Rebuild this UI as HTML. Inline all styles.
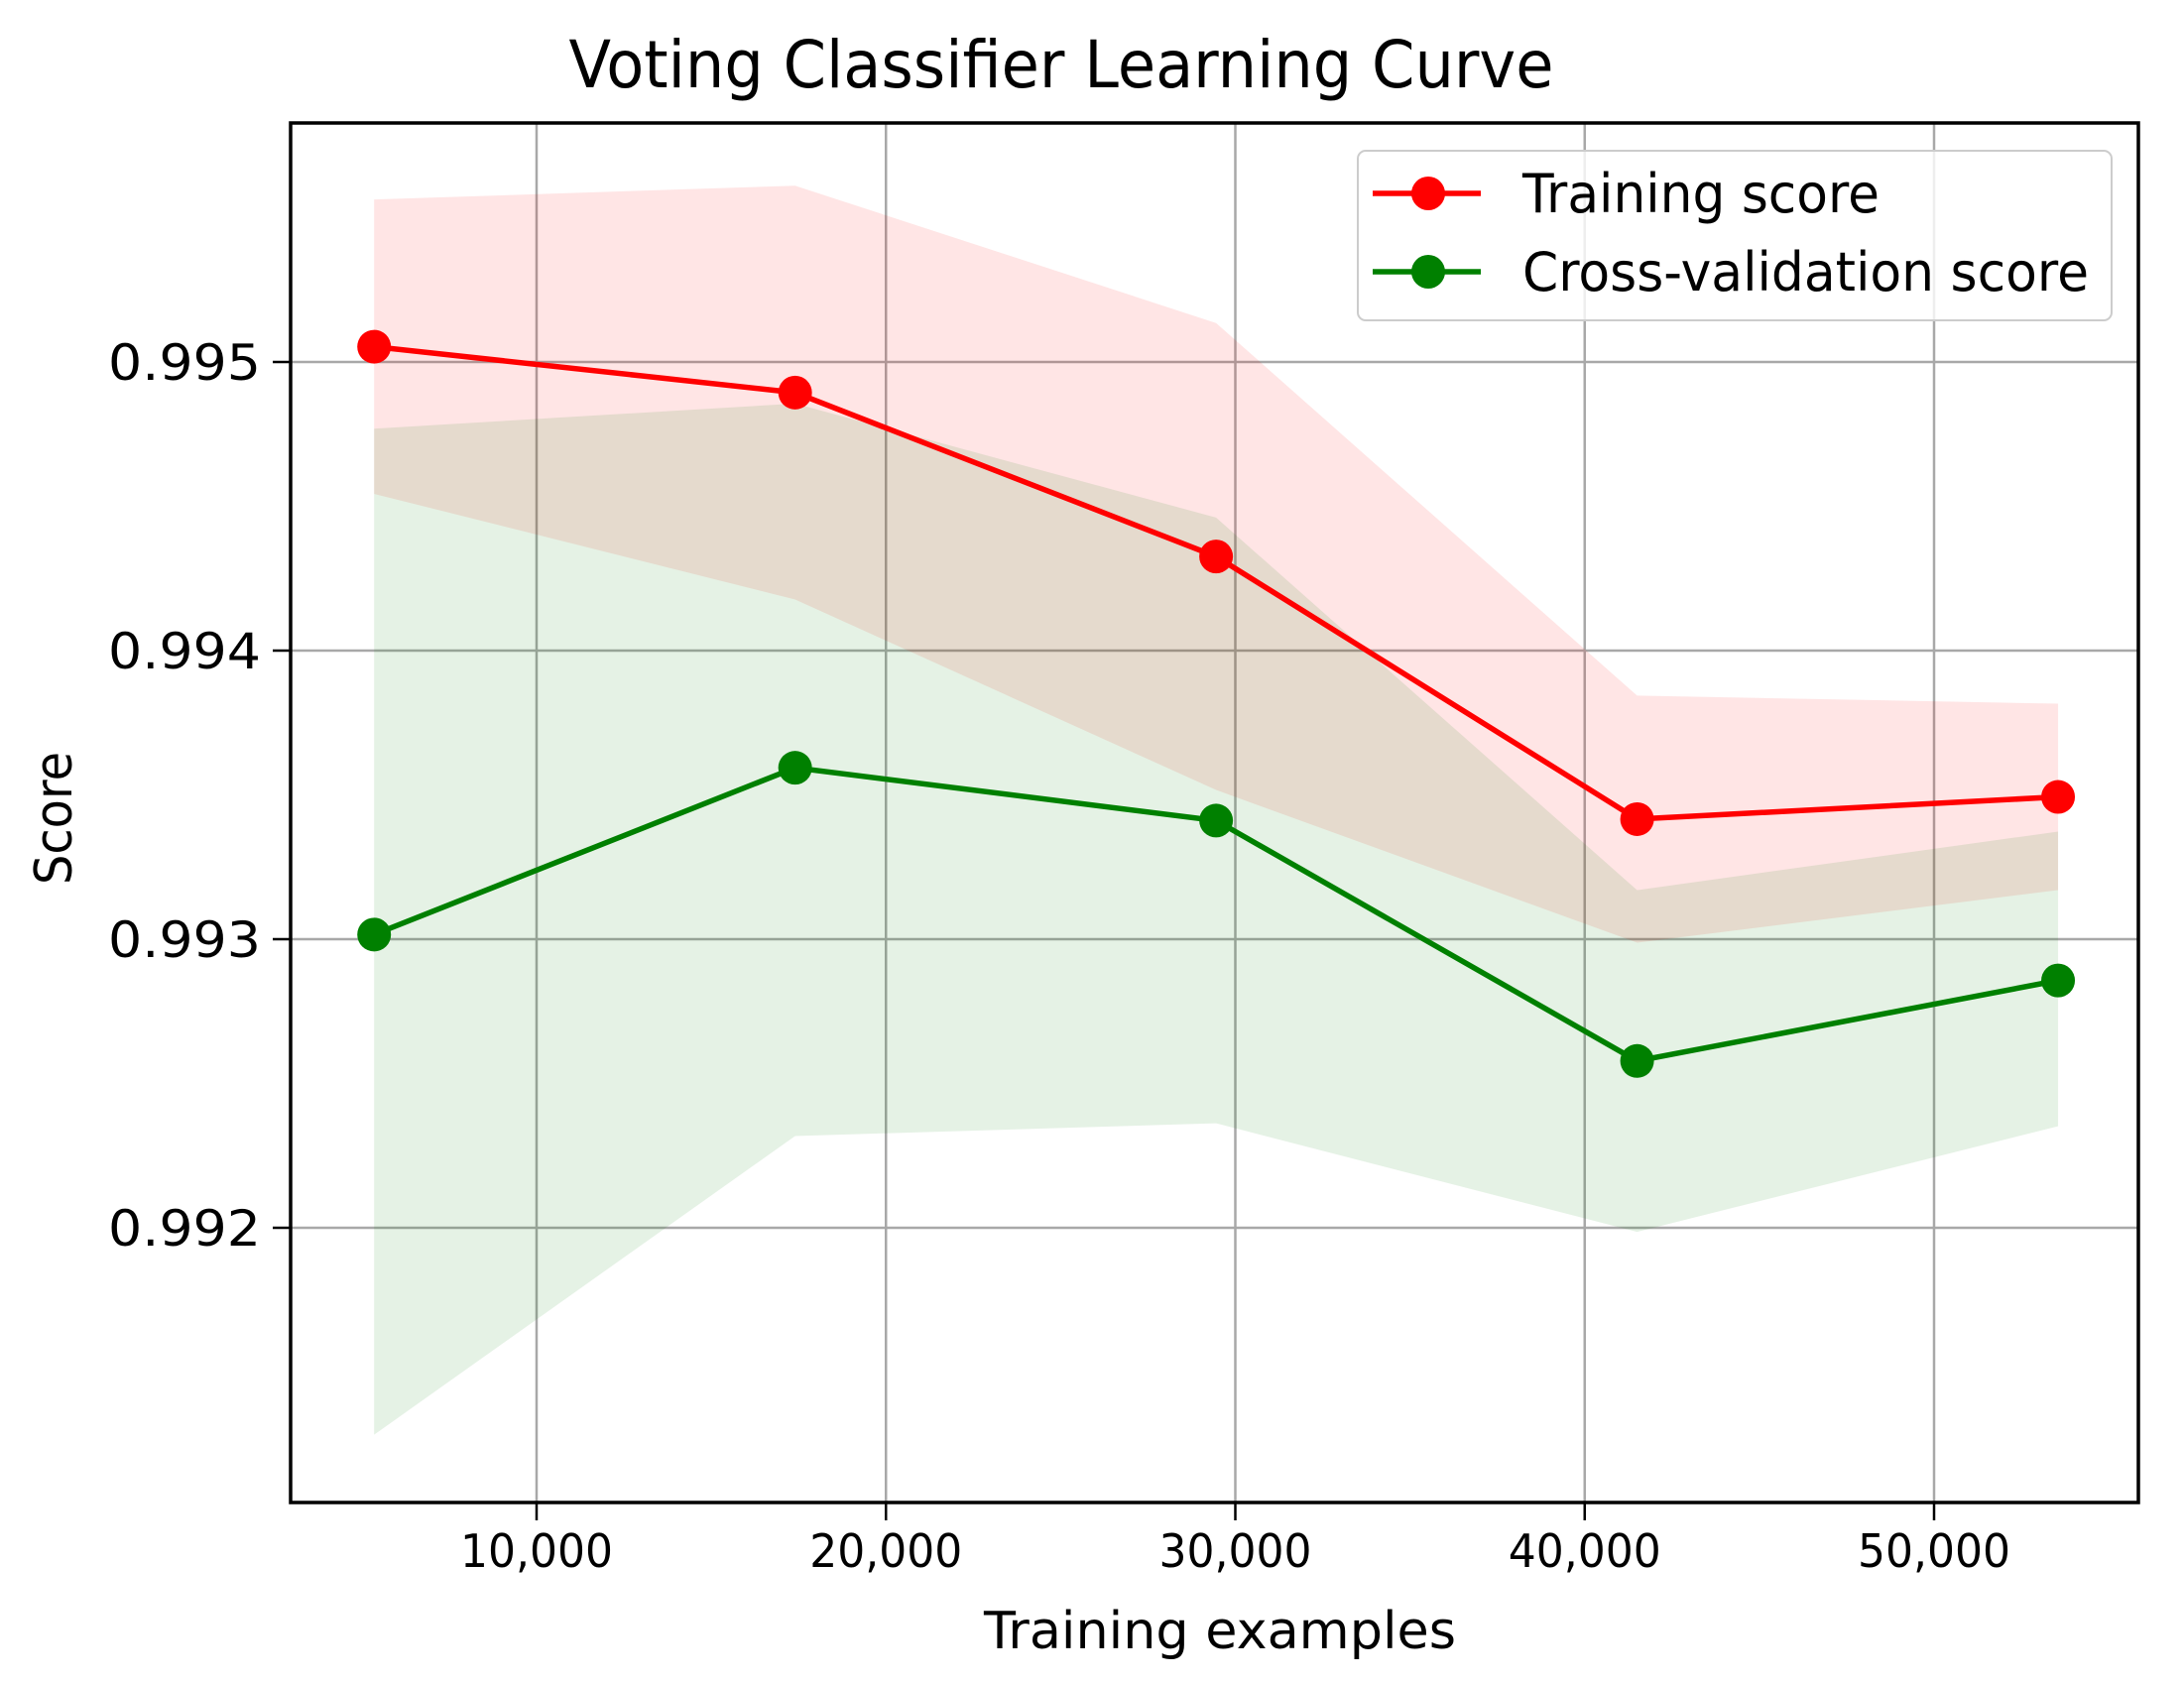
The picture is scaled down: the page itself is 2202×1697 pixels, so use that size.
<!DOCTYPE html>
<html><head><meta charset="utf-8"><style>
html,body{margin:0;padding:0;background:#fff;}
svg{display:block;font-family:"DejaVu Sans","Liberation Sans",sans-serif;}
</style></head><body>
<svg id="chart" width="2202" height="1697" viewBox="0 0 2202 1697" xmlns="http://www.w3.org/2000/svg">
<rect width="2202" height="1697" fill="#fff"/>
<text x="1070" y="88" font-size="66" text-anchor="middle" textLength="993" lengthAdjust="spacingAndGlyphs" fill="#000">Voting Classifier Learning Curve</text>
<g id="grid"></g>
<g id="bands"></g>
<g id="lines"></g>
<rect x="293" y="124" width="1863" height="1391" fill="none" stroke="#000" stroke-width="3.5"/>
<g id="ticks"></g>
<text x="1230" y="1662" font-size="52" text-anchor="middle" textLength="476" lengthAdjust="spacingAndGlyphs" fill="#000">Training examples</text>
<text transform="translate(72,825) rotate(-90)" font-size="52" text-anchor="middle" textLength="134" lengthAdjust="spacingAndGlyphs" fill="#000">Score</text>
<g>
<rect x="1369" y="152" width="760" height="171" rx="8" fill="#fff" fill-opacity="0.8" stroke="#ccc" stroke-width="2"/>
<line x1="1384" y1="195" x2="1493" y2="195" stroke="#ff0000" stroke-width="5.5"/>
<circle cx="1440" cy="195" r="17" fill="#ff0000"/>
<text x="1535" y="214" font-size="54" textLength="360" lengthAdjust="spacingAndGlyphs" fill="#000">Training score</text>
<line x1="1384" y1="274" x2="1493" y2="274" stroke="#008000" stroke-width="5.5"/>
<circle cx="1440" cy="274" r="17" fill="#008000"/>
<text x="1535" y="293" font-size="54" textLength="571" lengthAdjust="spacingAndGlyphs" fill="#000">Cross-validation score</text>
</g>
</svg>
<script>
const sizes = [5350, 17400, 29450, 41500, 53550];
const trainMean = [0.995053, 0.994894, 0.994326, 0.993416, 0.993493];
const trainUpper = [0.995563, 0.995611, 0.995135, 0.993844, 0.993816];
const trainLower = [0.994543, 0.994177, 0.993517, 0.992988, 0.993170];
const cvMean = [0.993016, 0.993594, 0.993411, 0.992578, 0.992857];
const cvUpper = [0.994769, 0.994856, 0.994461, 0.993170, 0.993373];
const cvLower = [0.991283, 0.992318, 0.992362, 0.991986, 0.992352];
const xTicks = [10000, 20000, 30000, 40000, 50000];
const xTickLabels = ["10,000", "20,000", "30,000", "40,000", "50,000"];
const yTicks = [0.992, 0.993, 0.994, 0.995];
const yTickLabels = ["0.992", "0.993", "0.994", "0.995"];

const NS = "http://www.w3.org/2000/svg";
const X = v => 541 + (v - 10000) * 0.035225;
const Y = v => 365 + (0.995 - v) * 291000;
function mk(tag, attrs, parent) {
  const e = document.createElementNS(NS, tag);
  for (const k in attrs) e.setAttribute(k, attrs[k]);
  parent.appendChild(e);
  return e;
}
const grid = document.getElementById('grid');
const ticks = document.getElementById('ticks');
xTicks.forEach((t, i) => {
  const gl = mk('line', {x1: X(t), x2: X(t), y1: 124, y2: 1515, stroke: '#a8a8a8', 'stroke-width': 2.5}, grid);
  
  
  mk('line', {x1: X(t), x2: X(t), y1: 1515, y2: 1533, stroke: '#000', 'stroke-width': 2.5}, ticks);
  const tx = mk('text', {x: X(t), y: 1580, 'font-size': 46, 'text-anchor': 'middle', textLength: 154, lengthAdjust: 'spacingAndGlyphs', fill: '#000'}, ticks);
  tx.textContent = xTickLabels[i];
  
  
});
yTicks.forEach((t, i) => {
  const gl = mk('line', {x1: 293, x2: 2156, y1: Y(t), y2: Y(t), stroke: '#a8a8a8', 'stroke-width': 2.5}, grid);
  
  
  mk('line', {x1: 275, x2: 293, y1: Y(t), y2: Y(t), stroke: '#000', 'stroke-width': 2.5}, ticks);
  const tx = mk('text', {x: 263, y: Y(t) + 18, 'font-size': 50, 'text-anchor': 'end', textLength: 154, lengthAdjust: 'spacingAndGlyphs', fill: '#000'}, ticks);
  tx.textContent = yTickLabels[i];
  
  
});
const bands = document.getElementById('bands');
function band(up, lo, color, name) {
  let pts = sizes.map((s, i) => X(s) + ',' + Y(up[i]));
  pts = pts.concat(sizes.map((s, i) => X(s) + ',' + Y(lo[i])).reverse());
  const p = mk('polygon', {points: pts.join(' '), fill: color, 'fill-opacity': 0.1}, bands);
  
  
}
band(trainUpper, trainLower, '#ff0000', 'training-band');
band(cvUpper, cvLower, '#008000', 'cv-band');
const lines = document.getElementById('lines');
function series(vals, color, name) {
  const pl = mk('polyline', {points: sizes.map((s, i) => X(s) + ',' + Y(vals[i])).join(' '), fill: 'none', stroke: color, 'stroke-width': 5.5}, lines);
  
  
  sizes.forEach((s, i) => {
    const c = mk('circle', {cx: X(s), cy: Y(vals[i]), r: 17, fill: color}, lines);
    
    
  });
}
series(trainMean, '#ff0000', 'training');
series(cvMean, '#008000', 'cv');
</script>
</body></html>
